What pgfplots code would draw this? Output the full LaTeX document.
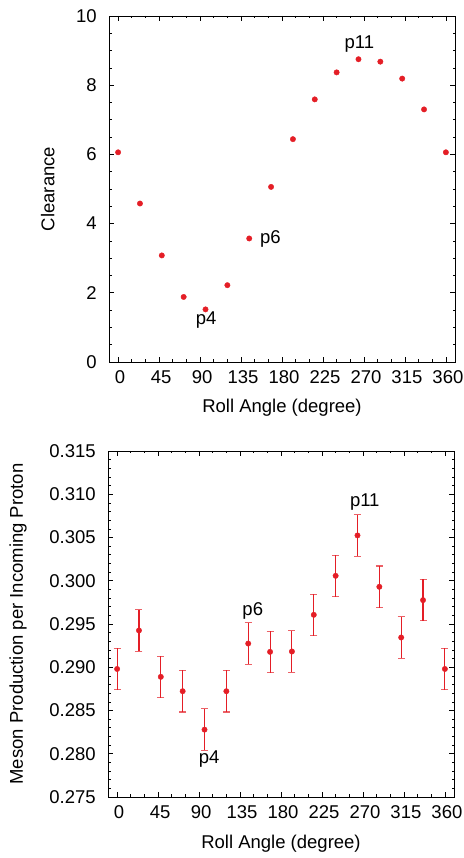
\documentclass[border=0pt]{standalone}
\usepackage{pgfplots}
\pgfplotsset{compat=1.18}
\usepackage{fontspec}
\setmainfont{Liberation Sans}
\definecolor{ptred}{RGB}{228,30,38}
\begin{document}
\fontsize{18.5}{21}\selectfont
\begin{tikzpicture}
\useasboundingbox (0,0) rectangle (463pt,858pt);
\pgfplotsset{
  common/.style={
    scale only axis, width=346pt, height=346pt, anchor=south west,
    xmin=-10, xmax=370,
    xtick={0,45,...,360}, minor x tick num=2,
    tick align=inside, major tick length=5pt, minor tick length=2.5pt,
    axis line style={line width=0.8pt}, every tick/.style={black, line width=0.6pt},
    /pgf/number format/assume math mode=true,
    tick label style={font=\fontsize{18.5}{21}\selectfont},
    label style={font=\fontsize{18.5}{21}\selectfont},
    xticklabel style={xshift=2pt, yshift=-2pt},
    yticklabel style={xshift=-6pt},
    xlabel={Roll Angle (degree)},
    clip=false,
  }
}
\begin{axis}[common, at={(109pt,496pt)},
  ymin=0, ymax=10, ytick={0,2,...,10}, minor y tick num=3,
  ylabel={Clearance},
  ylabel style={at={(axis description cs:-0.177,0.5)}, anchor=center},
  xlabel style={at={(axis description cs:0.5,-0.133)}, anchor=center},
]
\addplot[only marks, mark=*, mark size=2.7pt, color=ptred] coordinates {
(0,6.06) (24,4.58) (48,3.08) (72,1.88) (96,1.52) (120,2.22) (144,3.57) (168,5.06)
(192,6.44) (216,7.59) (240,8.37) (264,8.75) (288,8.68) (312,8.19) (336,7.30) (360,6.06)
};
\node at (axis cs:96.6,1.21) {p4};
\node[anchor=west] at (axis cs:149,3.57) {p6};
\node at (axis cs:265,9.18) {p11};
\end{axis}
\begin{axis}[common, at={(108pt,61pt)},
  ymin=0.275, ymax=0.315, ytick={0.275,0.280,...,0.315}, minor y tick num=4,
  yticklabel style={/pgf/number format/.cd, fixed, fixed zerofill, precision=3},
  ylabel={Meson Production per Incoming Proton},
  ylabel style={at={(axis description cs:-0.26,0.5)}, anchor=center},
  xlabel style={at={(axis description cs:0.5,-0.136)}, anchor=center},
]
\addplot[only marks, mark=*, mark size=2.7pt, color=ptred,
  error bars/.cd, y dir=both, y explicit,
  error bar style={color=ptred, line width=1.1pt},
  error mark options={rotate=90, mark size=3.5pt, line width=1.1pt, color=ptred, opacity=0.7}]
 coordinates {
(0,0.2898) +- (0,0.0024)
(24,0.29425) +- (0,0.0024)
(48,0.28889) +- (0,0.0024)
(72,0.28723) +- (0,0.0024)
(96,0.28279) +- (0,0.0024)
(120,0.28723) +- (0,0.0024)
(144,0.29274) +- (0,0.0024)
(168,0.29178) +- (0,0.0024)
(192,0.29182) +- (0,0.0024)
(216,0.29606) +- (0,0.0024)
(240,0.30057) +- (0,0.0024)
(264,0.30524) +- (0,0.0024)
(288,0.2993) +- (0,0.0024)
(312,0.29344) +- (0,0.0024)
(336,0.29776) +- (0,0.0024)
(360,0.2898) +- (0,0.0024)
};
\node at (axis cs:101,0.2794) {p4};
\node at (axis cs:149,0.2965) {p6};
\node at (axis cs:272,0.3091) {p11};
\end{axis}
\end{tikzpicture}
\end{document}
